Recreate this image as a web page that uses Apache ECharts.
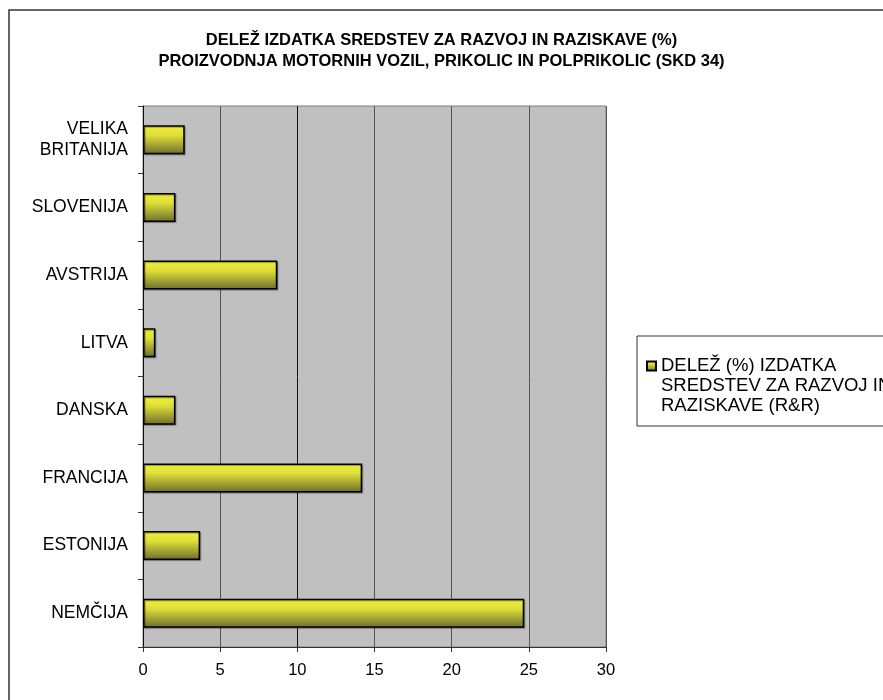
<!DOCTYPE html>
<html>
<head>
<meta charset="utf-8">
<script src="https://cdn.jsdelivr.net/npm/echarts@6/dist/echarts.min.js"></script>
<style>
  html, body { margin: 0; padding: 0; background: #fff; }
  #chart { width: 883px; height: 700px; }
</style>
</head>
<body>
<div id="chart"></div>
<script>
// data, bottom to top as on the picture
var countries = ['NEMČIJA', 'ESTONIJA', 'FRANCIJA', 'DANSKA', 'LITVA', 'AVSTRIJA', 'SLOVENIJA', 'VELIKA BRITANIJA']
var shares = [24.7, 3.7, 14.2, 2.1, 0.8, 8.7, 2.1, 2.7]
var seriesName = 'DELEŽ (%) IZDATKA SREDSTEV ZA RAZVOJ IN RAZISKAVE (R&R)'
var titleText = 'DELEŽ IZDATKA SREDSTEV ZA RAZVOJ IN RAZISKAVE (%)\nPROIZVODNJA MOTORNIH VOZIL, PRIKOLIC IN POLPRIKOLIC (SKD 34)'

var font = '"Liberation Sans", Arial, sans-serif'
var barFill = new echarts.graphic.LinearGradient(0, 0, 0, 1, [
  { offset: 0, color: '#f2f23c' },
  { offset: 0.35, color: '#dede38' },
  { offset: 1, color: '#6c6c2e' }
])

var myChart = echarts.init(document.getElementById('chart'))
myChart.setOption({
  backgroundColor: '#ffffff',
  animation: false,
  title: {
    text: titleText,
    left: 'center',
    top: 25,
    textStyle: {
      fontFamily: font,
      fontWeight: 'bold',
      fontSize: 16.5,
      lineHeight: 21,
      color: '#000'
    }
  },
  graphic: [
    {
      type: 'rect',
      shape: { x: 9, y: 10, width: 900, height: 720 },
      style: { fill: 'none', stroke: '#333', lineWidth: 1.5 },
      silent: true
    },
    {
      type: 'rect',
      shape: { x: 637, y: 336, width: 300, height: 90 },
      style: { fill: 'none', stroke: '#333', lineWidth: 1 },
      silent: true
    }
  ],
  legend: {
    left: 646,
    top: 316,
    padding: 0,
    icon: 'rect',
    itemWidth: 9,
    itemHeight: 9,
    itemGap: 4,
    formatter: function () {
      // two empty lines first so the icon sits beside the first text line
      return '\n\nDELEŽ (%) IZDATKA\nSREDSTEV ZA RAZVOJ IN\nRAZISKAVE (R&R)'
    },
    textStyle: {
      fontFamily: font,
      fontSize: 18.5,
      lineHeight: 20,
      color: '#000'
    },
    data: [seriesName]
  },
  grid: {
    left: 143,
    right: 277,
    top: 106,
    bottom: 53,
    show: true,
    backgroundColor: '#c0c0c0',
    borderColor: '#808080',
    borderWidth: 1
  },
  xAxis: {
    type: 'value',
    min: 0,
    max: 30,
    interval: 5,
    axisLine: { show: true, lineStyle: { color: '#333', width: 1 } },
    axisTick: { show: true, length: 5, lineStyle: { color: '#333' } },
    axisLabel: {
      margin: 15,
      fontFamily: font,
      fontSize: 16.5,
      color: '#000'
    },
    splitLine: {
      show: true,
      lineStyle: { color: ['#555', '#555', '#111', '#555', '#555', '#555', '#555'], width: 1 }
    }
  },
  yAxis: {
    type: 'category',
    data: countries,
    axisLine: { show: true, lineStyle: { color: '#111', width: 1 } },
    axisTick: { show: true, length: 5, lineStyle: { color: '#333' } },
    axisLabel: {
      margin: 15,
      fontFamily: font,
      fontSize: 17.5,
      lineHeight: 21,
      color: '#000',
      formatter: function (value) {
        return value === 'VELIKA BRITANIJA' ? 'VELIKA\nBRITANIJA' : value
      }
    }
  },
  series: [
    {
      name: seriesName,
      type: 'bar',
      data: shares,
      barWidth: 29,
      itemStyle: {
        color: barFill,
        borderColor: '#000',
        borderWidth: 1.5,
        shadowColor: 'rgba(0,0,0,0.35)',
        shadowBlur: 1,
        shadowOffsetX: 1,
        shadowOffsetY: 1
      }
    }
  ]
})
</script>
</body>
</html>
